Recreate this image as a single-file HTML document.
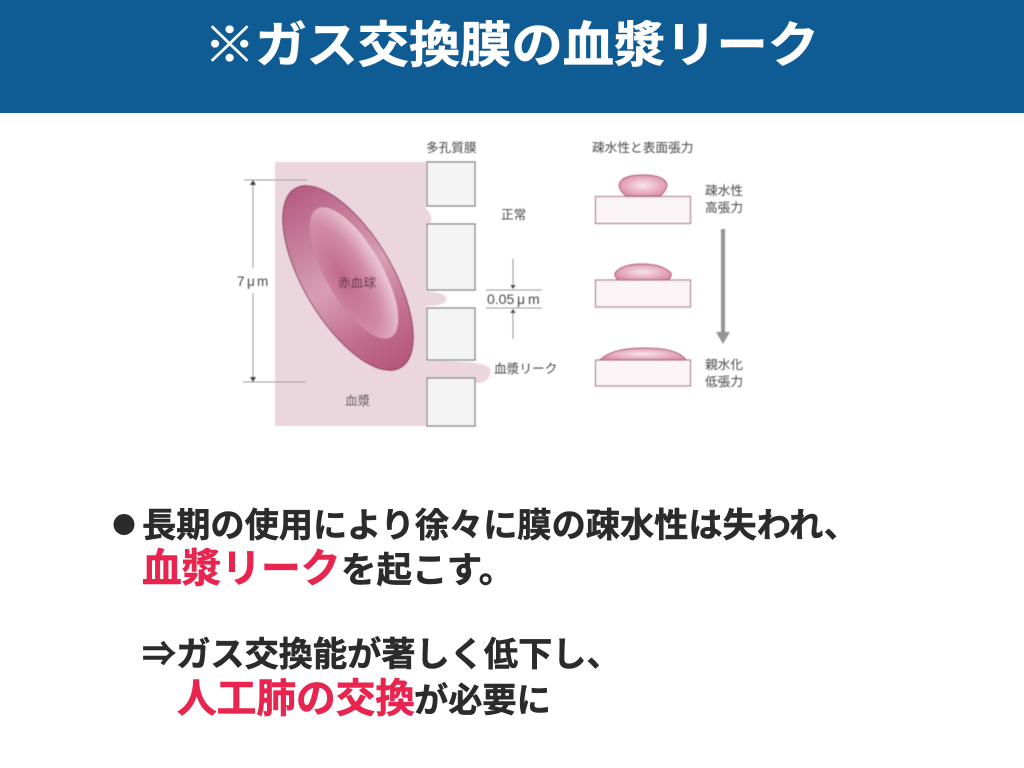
<!DOCTYPE html>
<html lang="ja"><head><meta charset="utf-8"><title>ガス交換膜の血漿リーク</title>
<style>
html,body{margin:0;padding:0;background:#fff;width:1024px;height:768px;overflow:hidden}
svg{display:block}
text{font-family:"Liberation Sans","Noto Sans CJK JP",sans-serif}
.t{font-size:12.7px;fill:#484848}
.b{font-size:34.2px;font-weight:700;fill:#2b2b2b;stroke:#2b2b2b;stroke-width:.5}
.r{font-size:39.7px;font-weight:700;fill:#e8244f;stroke:#e8244f;stroke-width:.6}
</style></head><body>
<svg width="1024" height="768" viewBox="0 0 1024 768" xmlns="http://www.w3.org/2000/svg">
<defs>
<linearGradient id="outer" x1="0" y1="0" x2="1" y2="0">
<stop offset="0" stop-color="#b65c83"/><stop offset=".22" stop-color="#c47a98"/><stop offset=".5" stop-color="#d89fb4"/><stop offset=".78" stop-color="#c26e8e"/><stop offset="1" stop-color="#b5567a"/>
</linearGradient>
<radialGradient id="inner" cx="50%" cy="72%" r="68%">
<stop offset="0" stop-color="#bf698c"/><stop offset=".6" stop-color="#d28ba6"/><stop offset="1" stop-color="#e9c3d0"/>
</radialGradient>
<radialGradient id="drop" cx="50%" cy="50%" r="55%">
<stop offset="0" stop-color="#f8e6ec"/><stop offset="1" stop-color="#dd8fa9"/>
</radialGradient>
<filter id="soft" x="-5%" y="-5%" width="110%" height="110%"><feGaussianBlur stdDeviation="0.45"/></filter>
</defs>
<rect x="0" y="0" width="1024" height="113" fill="#0f5c94"/>
<text x="204" y="62" font-size="49" font-weight="700" fill="#fff" stroke="#fff" stroke-width=".6" textLength="615" lengthAdjust="spacingAndGlyphs">※ガス交換膜の血漿リーク</text>
<g filter="url(#soft)">
<rect x="275" y="162" width="151" height="264" fill="#ebd6dd"/>
<path d="M425 208 Q433 214 431 222 Q429 225 425 224Z" fill="#ebd6dd"/>
<path d="M425 291 Q445 292 447 299 Q445 306 425 306Z" fill="#ebd6dd"/>
<path d="M425 361 Q480 360 490 368 Q492 380 480 383 L470 382 L425 378Z" fill="#ebd6dd"/>
<g transform="rotate(59.4 348 278)">
<ellipse cx="348" cy="278" rx="104" ry="44.500" fill="url(#outer)" stroke="#8f3c60" stroke-width="1"/>
</g>
<g transform="rotate(60 354 273)">
<ellipse cx="354" cy="273" rx="74" ry="28" fill="url(#inner)"/>
</g>
<g fill="#f4f4f4" stroke="#777" stroke-width="1.2">
<rect x="427" y="162" width="48" height="44"/>
<rect x="427" y="224" width="48" height="66"/>
<rect x="427" y="308" width="48" height="52"/>
<rect x="427" y="378" width="48" height="48"/>
</g>
<g stroke="#999" stroke-width="1" fill="none">
<line x1="244" y1="180" x2="307" y2="180"/>
<line x1="243" y1="382" x2="306" y2="382"/>
<line x1="253" y1="184" x2="253" y2="268"/>
<line x1="253" y1="293" x2="253" y2="378"/>
<line x1="486" y1="290" x2="542" y2="290"/>
<line x1="486" y1="308" x2="542" y2="308"/>
<line x1="513" y1="259" x2="513" y2="285"/>
<line x1="513" y1="313" x2="513" y2="339"/>
</g>
<g fill="#444">
<path d="M250 185h6l-3 -5z"/>
<path d="M250 377h6l-3 5z"/>
<path d="M510.500 285h5l-2.500 4z"/>
<path d="M510.500 313h5l-2.500 -4z"/>
</g>
<text class="t" x="237" y="286" style="font-size:13.5px">7</text>
<text class="t" x="247" y="286" style="font-size:13.5px">μ</text>
<text class="t" x="257" y="286" style="font-size:13.5px">m</text>
<text class="t" x="338" y="287" style="fill:#5a3040">赤血球</text>
<text class="t" x="345" y="405">血漿</text>
<text class="t" x="426" y="152">多孔質膜</text>
<text class="t" x="501" y="219">正常</text>
<text class="t" x="487" y="304" style="font-size:14px">0.05</text>
<text class="t" x="517" y="304" style="font-size:14px">μ</text>
<text class="t" x="528" y="304" style="font-size:14px">m</text>
<text class="t" x="494" y="373">血漿リーク</text>
<text class="t" x="592" y="152">疎水性と表面張力</text>
<g fill="#fbf4f6" stroke="#b98a9c" stroke-width="1.300">
<rect x="595.500" y="196.500" width="95" height="27"/>
<rect x="595.500" y="280" width="95" height="27"/>
<rect x="595.500" y="360" width="95" height="26"/>
</g>
<g fill="url(#drop)" stroke="#a85b78" stroke-width="1">
<path d="M626 196 Q619 190 619 185 Q621 175 643 175 Q665 175 667 185 Q667 190 660 196Z"/>
<path d="M618 280 Q614 276 615 273 Q622 264 642 264 Q662 264 671 273 Q672 277 668 280Z"/>
<path d="M600 360 Q612 348 645 348 Q678 348 686 360Z"/>
</g>
<rect x="721" y="229" width="4" height="104" fill="#959595"/>
<path d="M716 332h14l-7 12z" fill="#959595"/>
<text class="t" x="705" y="195">疎水性</text>
<text class="t" x="705" y="212">高張力</text>
<text class="t" x="705" y="369">親水化</text>
<text class="t" x="705" y="386">低張力</text>
</g>
<circle cx="124" cy="524.500" r="10.500" fill="#2b2b2b"/>
<text class="b" x="142" y="537">長期の使用により徐々に膜の疎水性は失われ、</text>
<text x="142" y="582" class="r">血漿リーク</text>
<text class="b" x="341" y="582" style="font-size:35.500px">を起こす。</text>
<text class="b" x="142" y="666">⇒ガス交換能が著しく低下し、</text>
<text x="177" y="712" class="r">人工肺の交換</text>
<text class="b" x="414" y="712">が必要に</text>
</svg>
</body></html>
